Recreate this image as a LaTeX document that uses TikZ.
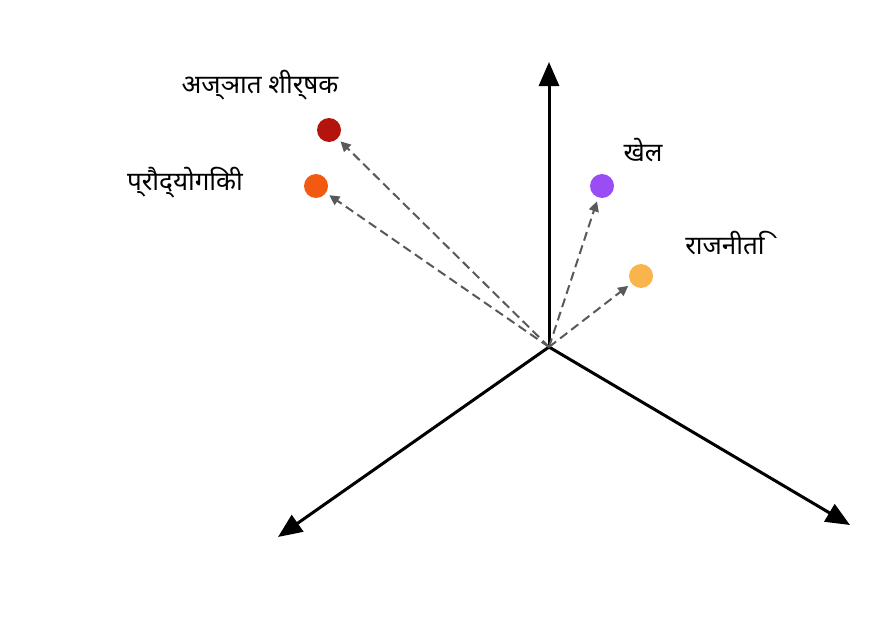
\documentclass[tikz,border=0pt]{standalone}
\usepackage{fontspec}
\setmainfont{Noto Sans}
\usetikzlibrary{arrows.meta}
\definecolor{dotred}{HTML}{B5140E}
\definecolor{dotorange}{HTML}{F25A12}
\definecolor{dotpurple}{HTML}{9B4DF5}
\definecolor{dotyellow}{HTML}{F9B54B}
\begin{document}
\begin{tikzpicture}[x=1pt,y=-1pt,
  axis/.style={line width=3pt,-{Triangle[length=24pt,width=20pt]}},
  vec/.style={line width=2pt,dashed,draw=black!65,dash pattern=on 9pt off 5pt,-{Triangle[length=10pt,width=10pt]}},
  dot/.style={circle,minimum size=24pt,inner sep=0pt},
  lbl/.style={font=\fontsize{26pt}{30pt}\selectfont}]
\useasboundingbox (0,0) rectangle (882,626);

\coordinate (o) at (549,347);
\coordinate (up) at (549,62);
\coordinate (left) at (278,537);
\coordinate (right) at (850,525);

\node[dot,fill=dotred] (d1) at (329,130) {};
\node[dot,fill=dotorange] (d2) at (316,186) {};
\node[dot,fill=dotpurple] (d3) at (602,186) {};
\node[dot,fill=dotyellow] (d4) at (641,276) {};

\node[lbl] (l1) at (260,85) {अज्ञात शीर्षक};
\node[lbl] (l2) at (185,183) {प्रौद्योगिकी};
\node[lbl] (l3) at (643,150) {खेल};
\node[lbl] (l4) at (725,243) {राजनीति};

\draw[axis] (o) -- (up);
\draw[axis] (o) -- (left);
\draw[axis] (o) -- (right);

\draw[vec,shorten >=4pt] (o) -- (d1);
\draw[vec,shorten >=4pt] (o) -- (d2);
\draw[vec,shorten >=4pt] (o) -- (d3);
\draw[vec,shorten >=4pt] (o) -- (d4);
\end{tikzpicture}
\end{document}
